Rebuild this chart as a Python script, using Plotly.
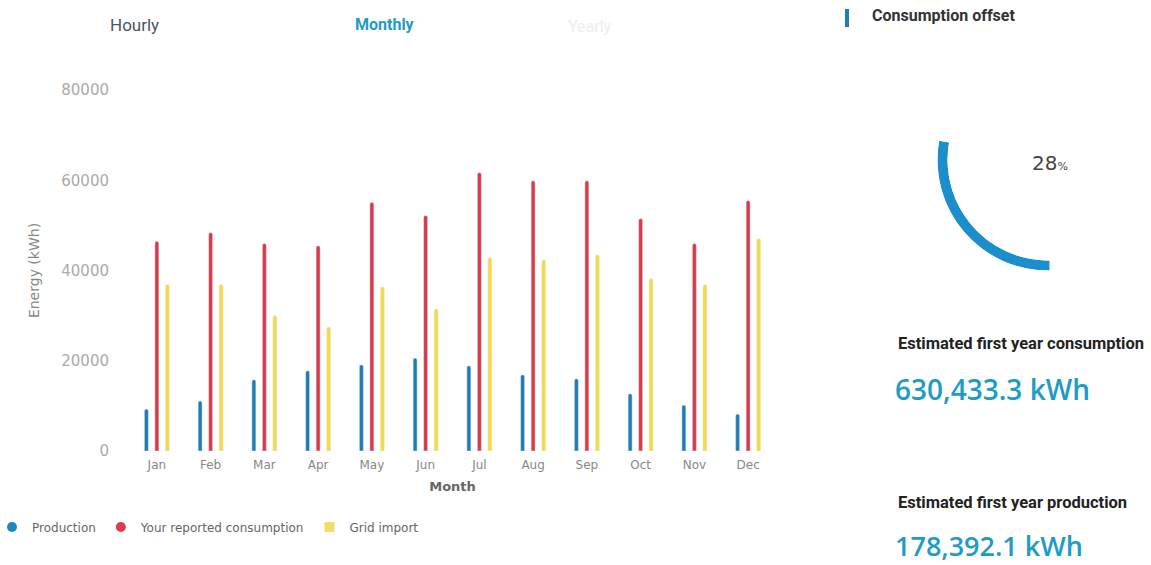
import plotly.graph_objects as go

W, H = 1151, 565

months = ["Jan", "Feb", "Mar", "Apr", "May", "Jun", "Jul", "Aug", "Sep", "Oct", "Nov", "Dec"]
production = [9300, 11100, 15800, 17800, 19100, 20600, 18900, 16900, 16000, 12700, 10200, 8200]
consumption = [46500, 48400, 46000, 45500, 55100, 52200, 61700, 59900, 59900, 51500, 46000, 55500]
grid_import = [36900, 36900, 30000, 27500, 36400, 31500, 42800, 42400, 43500, 38200, 36900, 47100]
y_ticks = [0, 20000, 40000, 60000, 80000]
offset_pct = 28
total_consumption = "630,433.3 kWh"
total_production = "178,392.1 kWh"

BLUE = "#1f7db5"
RED = "#d83a4a"
YELLOW = "#f4d94a"
TEAL = "#1f9bc8"


def px(x):
    return x / W


def py(y):
    return 1 - y / H


fig = go.Figure()
for name, vals, col in [("Production", production, BLUE),
                        ("Your reported consumption", consumption, RED),
                        ("Grid import", grid_import, YELLOW)]:
    fig.add_trace(go.Bar(x=months, y=vals, name=name, marker=dict(color=col, cornerradius=2),
                         showlegend=False, hoverinfo="x+y"))

# legend entries
for name, col, sym in [("Production", "#1f86c0", "circle"),
                       ("Your reported consumption", "#e03a4c", "circle"),
                       ("Grid import", "#f2dc6a", "square")]:
    fig.add_trace(go.Scatter(x=[None], y=[None], mode="markers", name=name,
                             marker=dict(color=col, size=10, symbol=sym), showlegend=True))

# gauge arc
fig.add_trace(go.Barpolar(r=[1], theta=[offset_pct * 3.6 / 2], width=[offset_pct * 3.6],
                          base=[0], marker=dict(color="#1a8fcc", line=dict(width=0)),
                          showlegend=False, subplot="polar", hoverinfo="skip"))

R_out = 110.5
cx, cy = 1048, 160
fig.update_layout(
    width=W, height=H,
    margin=dict(l=0, r=0, t=0, b=0, autoexpand=False),
    paper_bgcolor="white", plot_bgcolor="white",
    font=dict(family="DejaVu Sans", color="#888"),
    barmode="group", bargap=0.414, bargroupgap=0.62,
    xaxis=dict(domain=[px(130), px(775)], showgrid=False, zeroline=False, showline=False,
               tickfont=dict(size=12, color="#888"), ticklabelstandoff=5, automargin=False,
               title=dict(text="Month", font=dict(size=13, color="#666", family="DejaVu Sans", weight="bold"),
                          standoff=10)),
    yaxis=dict(domain=[py(451), py(90)], range=[0, 80000], tickvals=y_ticks, tickformat="d",
               showgrid=False, zeroline=False, showline=False, tickfont=dict(size=15, color="#aaa"),
               ticklabelstandoff=20, automargin=False,
               title=dict(text="Energy (kWh)", font=dict(size=14, color="#888", family="DejaVu Sans"),
                          standoff=18)),
    legend=dict(orientation="h", x=px(-8), xanchor="left", y=py(527), yanchor="middle",
                font=dict(size=12, color="#666", family="DejaVu Sans"), bgcolor="rgba(0,0,0,0)"),
    polar=dict(domain=dict(x=[px(cx - R_out), px(cx + 0.1736 * R_out)],
                           y=[py(cy + R_out), py(cy - 0.1736 * R_out)]),
               sector=[170, 280], hole=0.909, bgcolor="rgba(0,0,0,0)",
               radialaxis=dict(visible=False, range=[0, 1]),
               angularaxis=dict(visible=False, rotation=170, direction="counterclockwise")),
)

ann = [
    dict(text="Hourly", x=px(134), y=py(25), font=dict(size=17, color="#4a5560", family="Roboto")),
    dict(text="Monthly", x=px(385), y=py(25), font=dict(size=16, color=TEAL, family="Roboto", weight="bold")),
    dict(text="Yearly", x=px(590), y=py(27), font=dict(size=16, color="#eeeeee", family="Roboto")),
    dict(text="Consumption offset", x=px(870), y=py(15), xanchor="left",
         font=dict(size=16, color="#333", family="Roboto", weight="bold")),
    dict(text="28<span style='font-size:11px'>%</span>", x=px(1050), y=py(163),
         font=dict(size=20, color="#444", family="DejaVu Sans")),
    dict(text="Estimated first year consumption", x=px(896), y=py(343), xanchor="left",
         font=dict(size=16.5, color="#222", family="Roboto", weight="bold")),
    dict(text=total_consumption, x=px(893), y=py(389), xanchor="left",
         font=dict(size=28, color=TEAL, family="Open Sans", weight=600)),
    dict(text="Estimated first year production", x=px(896), y=py(502), xanchor="left",
         font=dict(size=16.5, color="#222", family="Roboto", weight="bold")),
    dict(text=total_production, x=px(893), y=py(545), xanchor="left",
         font=dict(size=27, color=TEAL, family="Open Sans", weight=600)),
]
for a in ann:
    a.setdefault("xanchor", "center")
    fig.add_annotation(xref="paper", yref="paper", showarrow=False, yanchor="middle", **a)

fig.add_shape(type="rect", xref="paper", yref="paper", x0=px(845), x1=px(849), y0=py(27), y1=py(9),
              fillcolor=BLUE, line=dict(width=0))

fig.write_html("out.html")
